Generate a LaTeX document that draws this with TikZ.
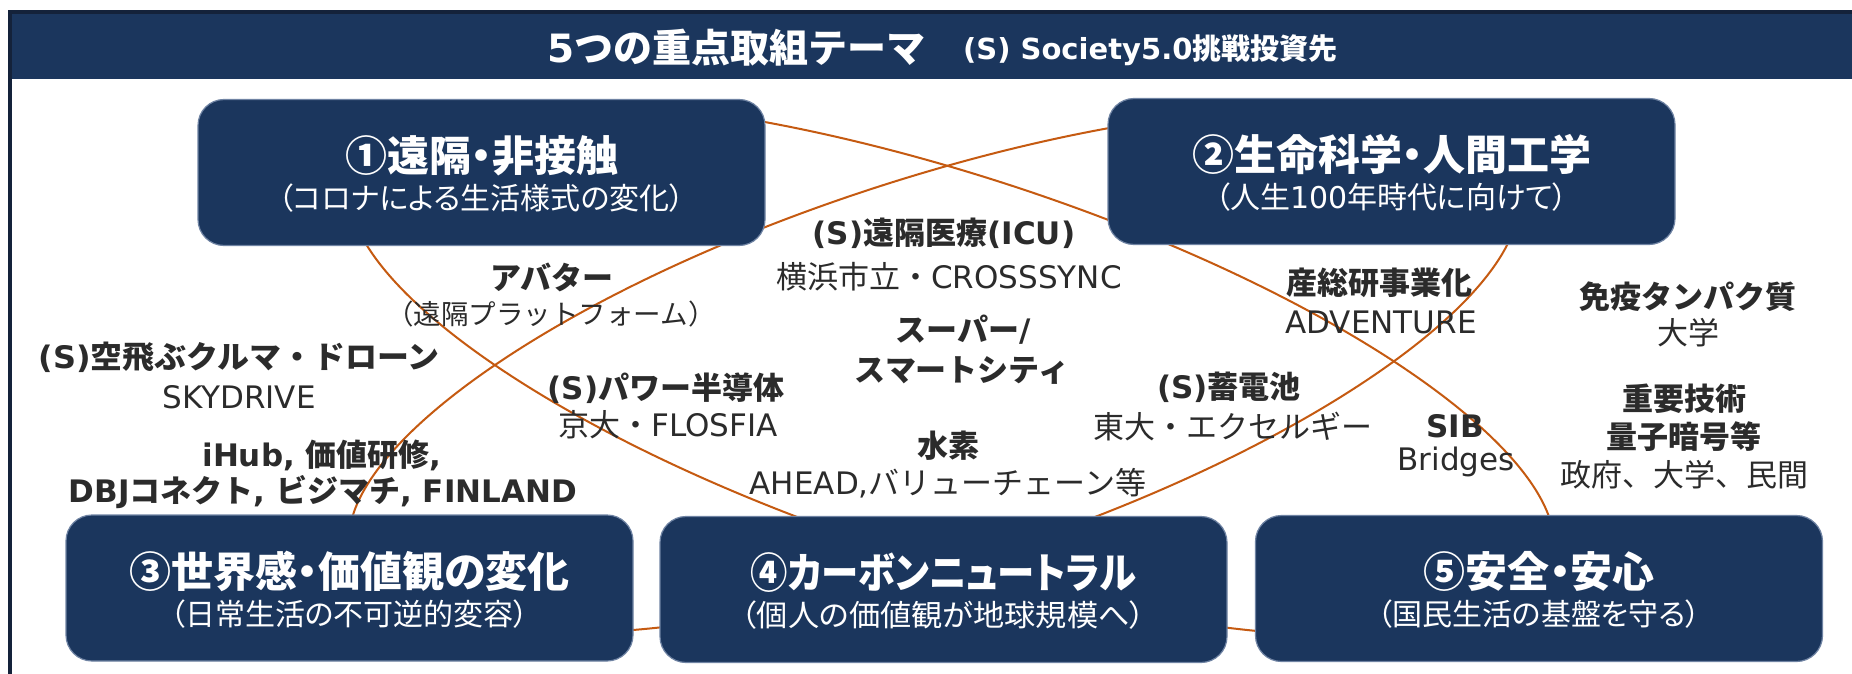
\documentclass[tikz,border=0pt]{standalone}
\usepackage{graphicx}
\usepackage{fontspec}
\setmainfont{DejaVu Sans}
\newfontfamily\jp{Noto Sans CJK JP}
\newfontfamily\jpp{Noto Sans CJK JP}[RawFeature=+palt]
\definecolor{navy}{HTML}{1B365D}
\definecolor{framec}{HTML}{14223A}
\definecolor{boxedge}{HTML}{6F83A3}
\definecolor{arcc}{HTML}{C55A11}
\definecolor{txt}{HTML}{2B2B2B}
\newcommand{\J}[1]{{\jp #1}}
\newcommand{\PJ}[1]{{\jpp #1}}
\tikzset{
  box/.style={rectangle, rounded corners=26pt, fill=navy, draw=boxedge, line width=1.2pt,
    minimum width=567pt, minimum height=146pt, inner sep=0pt},
  btitle/.style={text=white, font=\fontsize{42}{50}\selectfont\bfseries, inner sep=0pt},
  bsub/.style={text=white, font=\fontsize{30}{36}\selectfont, inner sep=0pt},
  htitle/.style={text=white, font=\fontsize{39}{46}\selectfont\bfseries, inner sep=0pt},
  hsub/.style={text=white, font=\fontsize{29}{35}\selectfont\bfseries, inner sep=0pt},
  lb/.style={text=txt, font=\fontsize{31}{37}\selectfont\bfseries, inner sep=0pt},
  lr/.style={text=txt, font=\fontsize{31}{37}\selectfont, inner sep=0pt},
  lrs/.style={text=txt, font=\fontsize{27.5}{33}\selectfont, inner sep=0pt},
  arcline/.style={draw=arcc, line width=2pt},
}
\begin{document}
\begin{tikzpicture}[x=1pt,y=-1pt]
\useasboundingbox (0,0) rectangle (1852,674);
\clip (0,0) rectangle (1852,674);
\fill[white] (0,0) rectangle (1852,674);
% frame and header band
\fill[navy] (10,12) rectangle (1860,79);
\draw[framec, line width=3.5pt] (10,700) -- (10,12) -- (1860,12);
\node[htitle, anchor=west] (h1) at (547,48) {5\J{つの重点取組テーマ}};
\node[hsub, anchor=west] (h2) at (963,50) {(S) Society5.0\J{挑戦投資先}};

% the two crossing ellipses (behind the boxes)
\draw[arcline, rotate around={-18.1:(951.5,368)}] (951.5,368) ellipse [x radius=631, y radius=192];
\draw[arcline, rotate around={18:(934,370.5)}] (934,370.5) ellipse [x radius=612, y radius=192];

% boxes
\node[box] (b1) at (481.5,172.5) {};
\node[box] (b2) at (1391.5,171.5) {};
\node[box] (b3) at (349.5,588) {};
\node[box] (b4) at (943.5,589.5) {};
\node[box] (b5) at (1539,588.5) {};

\node[btitle] (t1) at ([yshift=17pt]b1.center) {\PJ{①遠隔・非接触}};
\node[bsub]   (s1) at ([yshift=-26pt]b1.center) {\PJ{（コロナによる生活様式の変化）}};
\node[btitle] (t2) at ([yshift=17pt]b2.center) {\PJ{②生命科学・人間工学}};
\node[bsub]   (s2) at ([yshift=-26pt]b2.center) {\PJ{（人生}100\PJ{年時代に向けて）}};
\node[btitle] (t3) at ([yshift=17pt]b3.center) {\PJ{③世界感・価値観の変化}};
\node[bsub]   (s3) at ([yshift=-26pt]b3.center) {\PJ{（日常生活の不可逆的変容）}};
\node[btitle] (t4) at ([yshift=17pt]b4.center) {\scalebox{0.89}[1]{\PJ{④カーボンニュートラル}}};
\node[bsub]   (s4) at ([yshift=-26pt]b4.center) {\scalebox{1.04}[1]{\PJ{（個人の価値観が地球規模へ）}}};
\node[btitle] (t5) at ([yshift=17pt]b5.center) {\PJ{⑤安全・安心}};
\node[bsub]   (s5) at ([yshift=-26pt]b5.center) {\PJ{（国民生活の基盤を守る）}};

% labels
\node[lb]  (l1b) at (552,277) {\J{アバター}};
\node[lrs] (l1r) at (551,314) {\J{（遠隔プラットフォーム）}};
\node[lb]  (l2b) at (944,233) {(S)\J{遠隔医療}(ICU)};
\node[lr]  (l2r) at (949,277) {\J{横浜市立・}CROSSSYNC};
\node[lb]  (l3a) at (963,330) {\J{スーパー}/};
\node[lb]  (l3b) at (962,370) {\J{スマートシティ}};
\node[lb]  (l4b) at (239,357) {\scalebox{1.03}[1]{(S)\J{空飛ぶクルマ・ドローン}}};
\node[lr]  (l4r) at (239,397) {SKYDRIVE};
\node[lb]  (l5b) at (666,388) {(S)\J{パワー半導体}};
\node[lr]  (l5r) at (668,425) {\J{京大・}FLOSFIA};
\node[lb]  (l6a) at (322,455) {iHub, \J{価値研修},};
\node[lb]  (l6b) at (323,492) {DBJ\J{コネクト}, \J{ビジマチ}, FINLAND};
\node[lb]  (l7b) at (948,446) {\J{水素}};
\node[lr]  (l7r) at (948,483) {AHEAD,\J{バリューチェーン等}};
\node[lb]  (l8b) at (1229,387) {(S)\J{蓄電池}};
\node[lr]  (l8r) at (1233,427) {\J{東大・エクセルギー}};
\node[lb]  (l9b) at (1379,283) {\J{産総研事業化}};
\node[lr]  (l9r) at (1381,322) {ADVENTURE};
\node[lb]  (l10b) at (1455,426) {SIB};
\node[lr]  (l10r) at (1456,462) {Bridges};
\node[lb]  (l11b) at (1688,297) {\J{免疫タンパク質}};
\node[lr]  (l11r) at (1688,333) {\J{大学}};
\node[lb]  (l12a) at (1684,399) {\J{重要技術}};
\node[lb]  (l12b) at (1684,437) {\J{量子暗号等}};
\node[lr]  (l12r) at (1684,475) {\J{政府、大学、民間}};
\end{tikzpicture}
\end{document}
